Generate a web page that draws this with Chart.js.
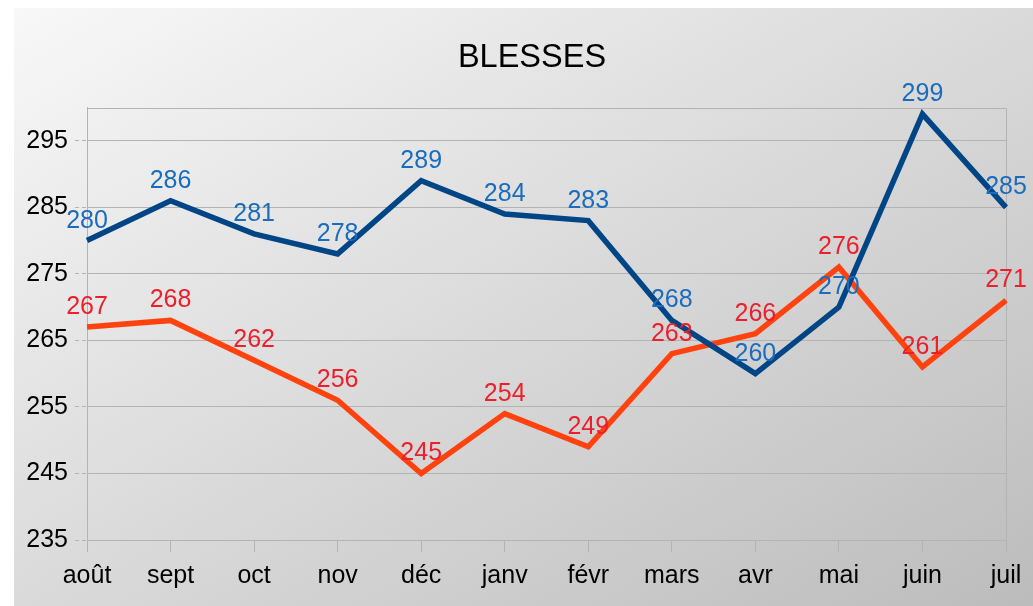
<!DOCTYPE html>
<html><head><meta charset="utf-8">
<script src="https://cdn.jsdelivr.net/npm/chart.js@4/dist/chart.umd.min.js"></script>
<style>
html,body{margin:0;padding:0;background:#fff;}
#wrap{position:relative;width:1033px;height:606px;overflow:hidden;}
#bg{position:absolute;left:14px;top:8px;width:1019px;height:598px;background:linear-gradient(to bottom right,#f8f8f8,#bcbcbc);}
canvas{position:absolute;left:0;top:0;}
</style></head><body>
<div id="wrap"><div id="bg"></div><canvas id="c" width="1033" height="606"></canvas></div>
<script>
const chartTitle = 'BLESSES';
const categories = ['août','sept','oct','nov','déc','janv','févr','mars','avr','mai','juin','juil'];
const seriesBlue = [280, 286, 281, 278, 289, 284, 283, 268, 260, 270, 299, 285];
const seriesRed  = [267, 268, 262, 256, 245, 254, 249, 263, 266, 276, 261, 271];
const yTicks = [235, 245, 255, 265, 275, 285, 295];
const yMin = 235, yMax = 300;

const FONT = "'Liberation Sans', Arial, sans-serif";
const GRID = '#b3b3b3';

const titleDraw = {
  id: 'titleDraw',
  afterDraw(chart) {
    const ctx = chart.ctx;
    ctx.save();
    ctx.font = '32.5px ' + FONT;
    ctx.fillStyle = '#000';
    ctx.textAlign = 'center';
    ctx.textBaseline = 'middle';
    ctx.fillText(chartTitle, 532, 58.5);
    ctx.restore();
  }
};

const plotFrame = {
  id: 'plotFrame',
  beforeDatasetsDraw(chart) {
    const {ctx, chartArea: a} = chart;
    ctx.save();
    ctx.strokeStyle = GRID; ctx.lineWidth = 1;
    ctx.beginPath();
    ctx.moveTo(Math.round(a.left), Math.round(a.top) + 0.5);
    ctx.lineTo(Math.round(a.right) + 0.5, Math.round(a.top) + 0.5);
    ctx.lineTo(Math.round(a.right) + 0.5, Math.round(a.bottom));
    ctx.stroke();
    ctx.restore();
  }
};

const valueLabels = {
  id: 'valueLabels',
  afterDatasetsDraw(chart) {
    const ctx = chart.ctx;
    ctx.save();
    ctx.font = '25px ' + FONT;
    ctx.textAlign = 'center';
    ctx.textBaseline = 'alphabetic';
    chart.data.datasets.forEach((ds, i) => {
      const meta = chart.getDatasetMeta(i);
      ctx.fillStyle = ds.labelColor;
      meta.data.forEach((pt, j) => {
        ctx.fillText(String(ds.data[j]), pt.x, pt.y - 13);
      });
    });
    ctx.restore();
  }
};

new Chart(document.getElementById('c'), {
  type: 'line',
  data: {
    labels: categories,
    datasets: [
      { data: seriesBlue, borderColor: '#004586', backgroundColor: '#004586', borderWidth: 5.5, pointRadius: 0, tension: 0, labelColor: '#1a6cbd' },
      { data: seriesRed, borderColor: '#ff420e', backgroundColor: '#ff420e', borderWidth: 5.5, pointRadius: 0, tension: 0, labelColor: '#ec1f2b' }
    ]
  },
  options: {
    responsive: false,
    animation: false,
    devicePixelRatio: 1,
    layout: { padding: { left: 14, right: 27, top: 107.5, bottom: 0 } },
    plugins: {
      legend: { display: false },
      tooltip: { enabled: false },
      title: { display: false }
    },
    scales: {
      x: {
        offset: false,
        grid: { display: true, drawOnChartArea: false, drawTicks: true, tickLength: 12, color: GRID, lineWidth: 1 },
        border: { display: true, color: GRID, width: 1 },
        ticks: { color: '#000', font: { family: FONT, size: 25 }, padding: 9, maxRotation: 0, autoSkip: false },
        afterFit(s) { s.height = 66; }
      },
      y: {
        min: yMin, max: yMax,
        afterBuildTicks(s) { s.ticks = yTicks.map(v => ({ value: v })); },
        grid: { color: GRID, lineWidth: 1, borderDash: [4, 3], tickBorderDash: [4, 3], tickLength: 12, drawTicks: true },
        border: { display: true, color: GRID, width: 1 },
        ticks: { color: '#000', font: { family: FONT, size: 25 }, padding: 7 },
        afterFit(s) { s.width = 87 - 14; }
      }
    }
  },
  plugins: [plotFrame, valueLabels, titleDraw]
});
</script>
</body></html>
